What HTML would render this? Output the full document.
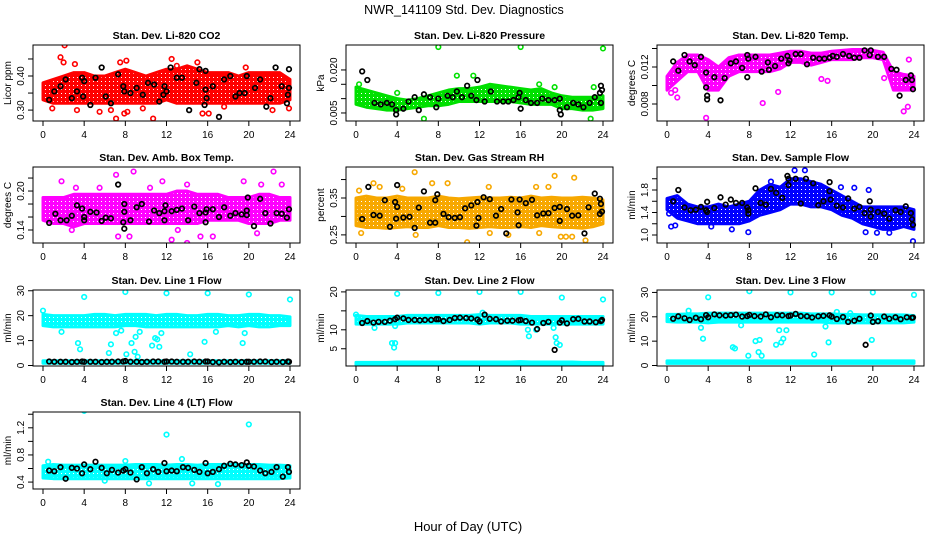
<!DOCTYPE html>
<html><head><meta charset="utf-8"><style>
body{margin:0;background:#fff}
svg{display:block;font-family:"Liberation Sans",sans-serif}
</style></head><body>
<svg id="chart" width="936" height="540" viewBox="0 0 936 540" xmlns="http://www.w3.org/2000/svg">
<text x="464" y="14" text-anchor="middle" font-size="12.5">NWR_141109  Std. Dev. Diagnostics</text>
<text x="468" y="531" text-anchor="middle" font-size="13">Hour of Day (UTC)</text>
</svg>
<script>
// ---- data ----
const xTicks=[0,4,8,12,16,20,24];
const hours=[0,1,2,3,4,5,6,7,8,9,10,11,12,13,14,15,16,17,18,19,20,21,22,23,24];
const blkHours=[0.6,1.1,1.7,2.2,2.8,3.3,3.8,4.0,4.6,5.1,5.7,6.2,6.7,7.3,7.8,8.0,8.5,9.1,9.6,10.1,10.7,11.2,11.8,12.0,12.5,13.0,13.6,14.1,14.7,15.2,15.8,16.0,16.5,17.1,17.6,18.2,18.7,19.3,19.8,20.0,20.5,21.1,21.6,22.2,22.7,23.3,23.8,23.9];

const co2Lo=[0.33,0.32,0.32,0.32,0.32,0.32,0.32,0.32,0.32,0.32,0.32,0.32,0.33,0.32,0.32,0.32,0.32,0.32,0.32,0.32,0.32,0.32,0.32,0.32,0.33];
const co2Hi=[0.38,0.39,0.40,0.41,0.41,0.40,0.40,0.41,0.42,0.41,0.40,0.41,0.42,0.42,0.43,0.42,0.41,0.41,0.41,0.40,0.41,0.41,0.41,0.41,0.39];
const co2Out=[[2.1,0.49],[1.7,0.455],[2,0.44],[0.9,0.305],[3.3,0.30],[5.5,0.295],[6.6,0.30],[7.1,0.275],[7.9,0.29],[8.2,0.295],[9.7,0.305],[10.7,0.275],[12.5,0.45],[13,0.43],[15,0.44],[15.5,0.29],[16.1,0.29],[17.6,0.31],[19.7,0.425],[22.3,0.30],[7.5,0.44],[8.1,0.445],[23.9,0.305],[3.1,0.435]];
const co2Blk=[[0.6,0.33],[1.1,0.355],[1.7,0.37],[2.2,0.39],[2.8,0.335],[3.3,0.355],[3.8,0.395],[4.0,0.385],[3.9,0.34],[4.6,0.315],[5.1,0.395],[5.7,0.425],[6.1,0.34],[6.6,0.32],[7.3,0.405],[7.8,0.37],[7.9,0.355],[8.5,0.35],[9.1,0.365],[9.7,0.345],[10.2,0.38],[10.8,0.375],[11.3,0.325],[11.7,0.345],[11.8,0.37],[12,0.355],[12.4,0.425],[13.0,0.395],[13.5,0.395],[14.2,0.30],[14.9,0.38],[15.2,0.42],[15.8,0.415],[15.8,0.36],[15.9,0.335],[15.7,0.315],[16.5,0.37],[17.1,0.28],[17.6,0.39],[18.2,0.40],[18.7,0.34],[19.1,0.35],[19.6,0.35],[19.8,0.40],[20.6,0.365],[21.1,0.39],[21.7,0.31],[22.1,0.335],[22.6,0.425],[23.2,0.37],[23.7,0.32],[23.8,0.345],[23.9,0.42],[23.9,0.365]];

const presLo=[0.008,0.007,0.0065,0.006,0.006,0.0065,0.007,0.0075,0.0075,0.008,0.009,0.009,0.009,0.009,0.009,0.009,0.0085,0.008,0.008,0.008,0.0065,0.0065,0.006,0.006,0.0065];
const presHi=[0.014,0.013,0.012,0.011,0.010,0.0095,0.010,0.011,0.012,0.013,0.0135,0.0135,0.014,0.015,0.0145,0.014,0.0135,0.013,0.0135,0.012,0.011,0.0105,0.0105,0.0105,0.011];
const presOut=[[8,0.028],[16,0.028],[24,0.0275],[9.8,0.018],[11.4,0.018],[6.6,0.003],[22.8,0.003],[0.3,0.015],[4,0.012],[19.3,0.014],[23.1,0.014],[17.8,0.015]];
const presBlk=[[0.6,0.0195],[1.1,0.0165],[1.8,0.0085],[2.4,0.008],[3,0.0085],[3.5,0.008],[3.9,0.006],[3.9,0.0045],[4.6,0.0065],[5.1,0.009],[5.7,0.0105],[6.1,0.006],[6.6,0.0115],[7.2,0.0105],[7.8,0.007],[8,0.01],[8.9,0.011],[9.4,0.0105],[9.8,0.0125],[10.3,0.0105],[10.8,0.0145],[11.2,0.011],[11.8,0.0165],[11.7,0.0095],[12.5,0.009],[13.1,0.0125],[13.7,0.009],[14.3,0.009],[14.8,0.009],[15.3,0.0095],[15.8,0.0105],[15.9,0.012],[16,0.0065],[16.5,0.0095],[17,0.0085],[17.6,0.0085],[18.1,0.01],[18.7,0.0095],[19.3,0.0095],[19.8,0.01],[19.8,0.006],[19.9,0.0045],[20.5,0.007],[21.1,0.0085],[21.6,0.008],[22.1,0.007],[22.7,0.0085],[23.2,0.0105],[23.7,0.012],[23.8,0.0145],[23.9,0.013],[23.8,0.0085]];

const tempLo=[0.0095,0.0105,0.0115,0.0115,0.0095,0.0095,0.011,0.0115,0.0115,0.0115,0.0115,0.0118,0.0125,0.0125,0.0122,0.0125,0.0128,0.0128,0.0128,0.013,0.013,0.0128,0.0095,0.0095,0.0095];
const tempHi=[0.011,0.0125,0.0133,0.0133,0.0128,0.012,0.013,0.0133,0.0133,0.0133,0.0133,0.0135,0.0137,0.0137,0.0135,0.0135,0.0137,0.0138,0.0139,0.0139,0.0138,0.0136,0.0115,0.0112,0.011];
const tempOut=[[3.8,0.0065],[0.4,0.0092],[0.8,0.0095],[1,0.0087],[9.3,0.0081],[10.8,0.0093],[23,0.0072],[23.4,0.0077],[15,0.0107],[15.6,0.0105],[21.1,0.0108],[23.5,0.0128],[0.2,0.0108]];
const tempBlk=[[0.6,0.0126],[1.1,0.0116],[1.7,0.0133],[2.2,0.0126],[2.7,0.0122],[3.3,0.0131],[3.8,0.0114],[3.8,0.0098],[3.9,0.0089],[3.9,0.0085],[4.6,0.0109],[5.2,0.0084],[5.6,0.0108],[6.2,0.0124],[6.7,0.0126],[7.3,0.0119],[7.8,0.0133],[7.9,0.0129],[7.8,0.0109],[8.6,0.0131],[9.2,0.0115],[9.8,0.0125],[9.9,0.0117],[10.5,0.0121],[11.1,0.0129],[11.7,0.0132],[11.9,0.0127],[11.8,0.0124],[12.5,0.0134],[13,0.0134],[13.6,0.0123],[14.2,0.0130],[14.8,0.0129],[15.3,0.0129],[15.8,0.0130],[16.1,0.0132],[16.5,0.0131],[17.1,0.0134],[17.7,0.0132],[18.2,0.0130],[18.7,0.0130],[19.2,0.0138],[19.7,0.0133],[19.8,0.0138],[20.5,0.0131],[21.1,0.0131],[21.8,0.0118],[22.3,0.0117],[22.6,0.0089],[23.2,0.0106],[23.7,0.0111],[23.8,0.0106],[23.9,0.0096]];

const ambLo=[0.155,0.15,0.15,0.145,0.15,0.15,0.15,0.15,0.15,0.15,0.15,0.15,0.15,0.15,0.15,0.15,0.155,0.155,0.155,0.155,0.15,0.15,0.15,0.155,0.155];
const ambHi=[0.19,0.19,0.19,0.195,0.195,0.195,0.195,0.195,0.195,0.195,0.195,0.195,0.195,0.2,0.2,0.195,0.195,0.195,0.19,0.19,0.19,0.195,0.195,0.19,0.19];
const ambOut=[[8.8,0.23],[1.8,0.215],[7.1,0.225],[11.6,0.215],[14,0.21],[19.5,0.215],[22.4,0.23],[23.2,0.21],[21.2,0.21],[12.5,0.125],[14,0.12],[15.3,0.13],[16.5,0.13],[7.3,0.13],[8.4,0.13],[13.1,0.14],[2.8,0.14],[20.8,0.135],[3.2,0.205],[10.4,0.205],[5.5,0.205]];
const ambBlk=[[0.6,0.151],[1.2,0.165],[1.7,0.155],[2.3,0.155],[2.8,0.162],[3.3,0.178],[3.8,0.173],[4,0.16],[4,0.155],[4.6,0.168],[5.2,0.167],[5.7,0.154],[6.1,0.159],[6.6,0.158],[7.3,0.21],[7.8,0.152],[7.9,0.168],[7.9,0.18],[7.9,0.142],[8.5,0.155],[9.1,0.175],[9.6,0.18],[10.3,0.153],[10.8,0.17],[11.3,0.166],[11.8,0.169],[11.9,0.178],[11.8,0.155],[12.5,0.169],[13,0.171],[13.5,0.173],[14.1,0.155],[14.7,0.176],[15.2,0.166],[15.8,0.167],[15.8,0.152],[15.9,0.172],[16.5,0.172],[17.1,0.16],[17.6,0.175],[18.2,0.162],[18.7,0.166],[19.3,0.164],[19.8,0.163],[19.8,0.17],[19.9,0.19],[20.5,0.146],[21.1,0.188],[21.6,0.166],[22.1,0.15],[22.7,0.166],[23.2,0.165],[23.7,0.159],[23.9,0.172]];

const rhLo=[0.275,0.27,0.27,0.268,0.27,0.272,0.27,0.27,0.275,0.27,0.27,0.268,0.27,0.272,0.27,0.27,0.272,0.27,0.275,0.272,0.27,0.27,0.268,0.272,0.28];
const rhHi=[0.35,0.355,0.35,0.35,0.355,0.35,0.35,0.35,0.355,0.35,0.348,0.35,0.352,0.35,0.35,0.352,0.35,0.355,0.35,0.352,0.35,0.35,0.352,0.35,0.345];
const rhOut=[[5.7,0.42],[19.3,0.41],[21.2,0.405],[0.3,0.37],[1.7,0.39],[7.4,0.39],[8.9,0.39],[12.9,0.38],[17.5,0.38],[18.7,0.38],[10.8,0.23],[22.3,0.235],[5.8,0.25],[0.5,0.255],[13,0.255],[20.4,0.245],[14.8,0.25],[17.8,0.255],[19.9,0.245],[21,0.245],[2.3,0.38],[4.5,0.375]];
const rhBlk=[[0.6,0.293],[1.2,0.38],[1.7,0.304],[2.3,0.302],[2.8,0.344],[3.3,0.272],[3.8,0.339],[3.9,0.294],[4,0.326],[4,0.385],[4.6,0.297],[5.2,0.299],[5.7,0.269],[6.1,0.324],[6.6,0.368],[7.2,0.283],[7.7,0.283],[7.7,0.344],[7.9,0.36],[8.5,0.307],[9,0.298],[9.6,0.296],[10.1,0.298],[10.6,0.322],[11.2,0.33],[11.7,0.275],[11.9,0.296],[11.8,0.339],[12.4,0.352],[13,0.347],[13.6,0.302],[14.1,0.32],[14.6,0.254],[15.1,0.346],[15.7,0.311],[15.8,0.276],[15.9,0.346],[16.5,0.336],[17.1,0.345],[17.6,0.303],[18.2,0.308],[18.7,0.309],[19.3,0.323],[19.8,0.326],[19.8,0.288],[20.5,0.32],[21,0.302],[21.6,0.303],[22.2,0.254],[22.6,0.325],[23.2,0.362],[23.7,0.348],[23.7,0.307],[23.8,0.334],[23.9,0.313]];

const sfLo=[1.45,1.3,1.25,1.2,1.2,1.2,1.2,1.2,1.25,1.35,1.4,1.45,1.55,1.55,1.5,1.5,1.45,1.35,1.3,1.2,1.15,1.1,1.1,1.15,1.1];
const sfHi=[1.65,1.7,1.55,1.5,1.5,1.55,1.5,1.55,1.6,1.8,1.9,1.85,2.0,2.0,1.95,1.9,1.8,1.7,1.6,1.5,1.5,1.5,1.5,1.5,1.45];
const sfOut=[[0.4,1.15],[0.8,1.17],[7.9,1.05],[12.4,2.15],[13.4,2.15],[19.3,1.05],[20.4,1.04],[21.6,1.04],[23.9,0.89],[18.2,1.84],[19.6,1.8],[10.1,1.95],[16.9,1.85],[0.2,1.38],[4.3,1.15],[6.3,1.1]];
const sfBlk=[[0.6,1.6],[1.1,1.8],[1.7,1.49],[2.3,1.44],[2.8,1.45],[3.3,1.5],[3.8,1.44],[3.9,1.41],[3.9,1.59],[4.6,1.48],[5.2,1.67],[5.7,1.54],[6.2,1.63],[6.7,1.57],[7.3,1.57],[7.8,1.49],[7.9,1.44],[7.9,1.38],[8.6,1.83],[9.1,1.57],[9.6,1.54],[10.1,1.82],[10.6,1.75],[11.2,1.66],[11.7,2.05],[11.8,2.0],[11.8,1.89],[12.5,2.0],[13,1.56],[13.5,2.0],[14.2,1.92],[14.7,1.53],[15.2,1.6],[15.8,1.94],[15.8,1.78],[15.9,1.63],[16.5,1.52],[17.1,1.49],[17.6,1.65],[18.2,1.47],[18.7,1.5],[19.2,1.39],[19.7,1.6],[19.8,1.45],[19.8,1.33],[20.5,1.41],[21.1,1.38],[21.6,1.29],[22.2,1.44],[22.7,1.41],[23.2,1.51],[23.7,1.39],[23.8,1.28],[23.9,1.18]];

const l1Lo=[16,15.5,15.5,15.5,15.5,15.5,15.5,15.5,16,16,15.5,15.5,15.5,15.5,15.5,15.5,15.5,15.5,16,15.5,16,15.5,15.5,16,16];
const l1Hi=[20.5,20,20,20,20,20.5,20.5,20,20.5,20.5,20.5,20,20.5,20.5,20,20,20.5,20.5,20,20,20.5,20.5,20,20,19.5];
const l1Lo2=[0.9,0.9,0.9,0.9,0.9,0.9,0.9,0.9,0.9,0.9,0.9,0.9,0.9,0.9,0.9,0.9,0.9,0.9,0.9,0.9,0.9,0.9,0.9,0.9,0.9];
const l1Hi2=[1.9,1.9,1.9,1.9,1.9,1.9,1.9,1.9,1.9,1.9,1.9,1.9,1.9,1.9,1.9,1.9,1.9,1.9,1.9,1.9,1.9,1.9,1.9,1.9,1.9];
const l1Out=[[0,22],[4,27.5],[8,29.5],[12,29],[16,29],[20,28.5],[24,26.5],[3.4,9],[3.6,6.5],[6.4,5],[6.6,8.5],[7.1,13],[7.6,14],[8.1,4.5],[8.6,9],[8.9,5.5],[9.2,3.5],[9,11.5],[9.4,13.5],[10.6,8],[10.9,11],[11.3,7.5],[11.5,13],[11.1,10.5],[14.3,4.5],[15.7,9.5],[16.8,13.5],[19.4,9],[19.6,13],[1.8,13.5]];
const l1Blk=[1.6,1.5,1.5,1.5,1.4,1.5,1.6,1.5,1.5,1.5,1.4,1.5,1.5,1.6,1.6,1.8,1.5,1.5,1.4,1.5,1.6,1.6,1.5,1.6,1.6,1.5,1.5,1.5,1.6,1.5,1.6,1.6,1.4,1.3,1.5,1.4,1.5,1.4,1.5,1.5,1.5,1.6,1.6,1.4,1.5,1.4,1.6,1.5];

const l2Lo=[11.5,11.5,11.5,11.5,11.5,11.8,11.8,11.8,11.8,11.8,11.8,11.8,11.5,11.8,11.8,11.8,11.5,11.5,11.5,11.5,11.5,11.5,11.5,11.5,11.5];
const l2Hi=[13.8,13.5,13.5,13.5,13.5,13.8,13.8,13.8,13.8,13.8,13.8,13.8,14,13.8,13.8,13.8,13.8,13.5,13.5,13.5,13.5,13.5,13.5,13.5,13.5];
const l2Lo2=[0.6,0.6,0.6,0.6,0.6,0.6,0.6,0.6,0.6,0.6,0.6,0.6,0.6,0.6,0.6,0.6,0.6,0.6,0.6,0.6,0.6,0.6,0.6,0.6,0.6];
const l2Hi2=[1.4,1.4,1.4,1.4,1.5,1.5,1.5,1.5,1.5,1.5,1.5,1.5,1.5,1.5,1.5,1.5,1.6,1.5,1.5,1.5,1.5,1.5,1.4,1.4,1.4];
const l2Out=[[0,14],[4,19.5],[8,19.7],[12,20],[16,20],[20,18.5],[24,18],[3.5,6.5],[3.8,6.5],[3.7,5.3],[3.8,11],[1.8,10.5],[16.7,10],[16.8,8.3],[17.5,10],[19.2,10.5],[19.4,8],[19.5,6.5],[19.8,6],[12.3,14.5]];
const l2Blk=[11.8,12.3,11.9,12.1,12.1,12.4,12.8,13.2,13.0,12.6,12.6,12.5,12.6,12.6,12.8,12.8,12.3,12.6,13.1,13.2,13.1,13.0,12.7,12.2,14.0,12.9,12.8,12.2,12.4,12.4,12.5,12.6,12.3,11.9,10.2,11.8,12.1,4.7,11.9,12.5,11.7,12.8,12.9,12.2,12.2,12.0,12.3,12.6];

const l3Lo=[18,17.8,17.8,17.8,17.5,17.8,17.8,17.8,17.8,17.8,17.8,17.8,17.8,17.8,17.8,17.8,17.5,17.5,17.5,17.5,17.5,17.5,17.5,17.5,17.8];
const l3Hi=[21,21,21.2,21.2,21.5,21.5,21.5,21.5,21.5,21.5,21.5,21.5,21.5,21.5,21.2,21.2,21.2,21,21,20.8,20.8,20.8,20.8,20.8,20.5];
const l3Lo2=[0.9,0.9,0.9,0.9,0.9,0.9,0.9,0.9,0.9,0.9,0.9,0.9,0.9,0.9,0.9,0.9,0.9,0.9,0.9,0.9,0.9,0.9,0.9,0.9,0.9];
const l3Hi2=[1.9,1.9,1.9,1.9,1.9,1.9,1.9,1.9,1.9,1.9,1.9,1.9,1.9,1.9,1.9,1.9,1.9,1.9,1.9,1.9,1.9,1.9,1.9,1.9,1.9];
const l3Out=[[4,28],[8,30.5],[12,30],[16,30],[20,30],[24,29],[3.5,11],[3.3,15.5],[2.1,22.5],[6.4,7.5],[6.6,7],[7.2,16.5],[7.9,4],[8.6,10],[9,10.5],[8.9,5.5],[9.2,4],[10.6,8.5],[10.9,14.5],[11.1,9.5],[11.3,11],[11.6,14.5],[14.3,4.5],[15.7,9.5],[15.4,16],[19.9,10.5],[16.5,22],[17.8,21.5]];
const l3Blk=[19.2,20.2,19.4,18.7,19.6,19.0,20.7,19.8,21.0,20.6,20.5,20.7,20.9,20.1,20.3,20.8,20.3,20.1,21.0,19.8,20.7,20.6,20.3,20.5,21.2,20.3,20.2,19.7,20.2,20.4,20.6,20.1,19.1,19.9,17.9,18.4,19.2,8.5,20.5,17.9,18.2,20.1,19.2,19.8,19.0,19.8,19.6,19.7];

const l4Lo=[0.46,0.45,0.45,0.45,0.45,0.45,0.45,0.45,0.45,0.45,0.45,0.45,0.45,0.45,0.45,0.45,0.45,0.45,0.45,0.45,0.45,0.45,0.45,0.45,0.46];
const l4Hi=[0.64,0.66,0.65,0.65,0.65,0.65,0.65,0.65,0.65,0.66,0.66,0.66,0.65,0.66,0.66,0.65,0.66,0.66,0.66,0.66,0.66,0.66,0.65,0.65,0.64];
const l4Out=[[4,1.45],[12,1.1],[20,1.25],[14.5,0.38],[17,0.37],[10.3,0.38],[6,0.42],[13.5,0.74],[8,0.71],[0.5,0.7]];
const l4Blk=[0.57,0.56,0.62,0.45,0.61,0.60,0.53,0.66,0.59,0.70,0.61,0.53,0.58,0.54,0.57,0.59,0.54,0.44,0.62,0.53,0.59,0.55,0.68,0.56,0.57,0.56,0.62,0.61,0.58,0.55,0.68,0.53,0.55,0.59,0.64,0.67,0.66,0.65,0.69,0.64,0.63,0.57,0.53,0.55,0.62,0.48,0.62,0.55];

const co2Ticks=[0.30,0.35,0.40,0.45], co2Labels=["0.30","","0.40",""];
const presTicks=[0.005,0.010,0.015,0.020], presLabels=["0.005","","","0.020"];
const tempTicks=[0.008,0.010,0.012,0.014], tempLabels=["0.008","","0.012",""];
const ambTicks=[0.14,0.16,0.18,0.20,0.22], ambLabels=["0.14","","","0.20",""];
const rhTicks=[0.25,0.30,0.35,0.40], rhLabels=["0.25","","0.35",""];
const sfTicks=[1.0,1.2,1.4,1.6,1.8,2.0], sfLabels=["1.0","","1.4","","1.8",""];
const l1Ticks=[0,10,20,30], l1Labels=["0","10","20","30"];
const l2Ticks=[5,10,15,20], l2Labels=["5","10","","20"];
const l3Ticks=[0,10,20,30], l3Labels=["0","10","20","30"];
const l4Ticks=[0.4,0.6,0.8,1.0,1.2,1.4], l4Labels=["0.4","","0.8","","1.2",""];

// ---- layout ----
const NS="http://www.w3.org/2000/svg";
const svg=document.getElementById('chart');
const colX0=[43,356,667], rowTop=[45,167,290,412], rowBot=[121,243,366,489];
const pxPerHour=247/24;
function mk(tag,attrs,parent){const e=document.createElementNS(NS,tag);for(const k in attrs)e.setAttribute(k,attrs[k]);(parent||svg).appendChild(e);return e;}
function pairs(hs,vs){return hs.map((h,i)=>[h,vs[i]]);}
const defs=mk('defs',{});
let patN=0;
function pattern(color){
  const id='pat'+(patN++);
  const p=mk('pattern',{id:id,width:4,height:4,patternUnits:'userSpaceOnUse'},defs);
  mk('rect',{x:0,y:0,width:4,height:4,fill:color},p);
  mk('rect',{x:1,y:1,width:1,height:1,fill:'#fff'},p);
  return 'url(#'+id+')';
}

function panel(o){
  const g=mk('g',{});
  
  
  const x0=colX0[o.col], top=rowTop[o.row], bot=rowBot[o.row];
  const left=x0-10, right=x0+257;
  const xs=h=>x0+h*pxPerHour;
  const ys=v=>bot-(v-o.ymin)/(o.ymax-o.ymin)*(bot-top);
  const title=mk('text',{x:(left+right)/2,y:top-6,'text-anchor':'middle','font-size':'10.5','font-weight':'bold'},g);
  title.textContent=o.title;
  
  
  const clip=mk('clipPath',{id:'c'+o.name},g);
  mk('rect',{x:left,y:top,width:right-left,height:bot-top},clip);
  const plot=mk('g',{'clip-path':'url(#c'+o.name+')'},g);
  const fillP=pattern(o.color);
  o.bands.forEach((b,bi)=>{
    const pts=hours.map((h,i)=>xs(h)+','+ys(b[1][i])).concat(hours.slice().reverse().map((h,j)=>{const i=hours.length-1-j;return xs(h)+','+ys(b[0][i]);}));
    const p=mk('polygon',{points:pts.join(' '),fill:fillP,stroke:o.color,'stroke-width':3,'stroke-linejoin':'round'},plot);
    
    
  });
  o.out.forEach(pt=>{
    const c=mk('circle',{cx:xs(pt[0]),cy:ys(pt[1]),r:2.3,fill:'none',stroke:o.color,'stroke-width':1.6},plot);
    
    
  });
  o.blk.forEach(pt=>{
    const c=mk('circle',{cx:xs(pt[0]),cy:ys(pt[1]),r:2.3,fill:'none',stroke:'#000','stroke-width':1.7},plot);
    
    
  });
  const box=mk('rect',{x:left,y:top,width:right-left,height:bot-top,fill:'none',stroke:'#000','stroke-width':1},g);
  
  
  mk('line',{x1:xs(0),x2:xs(24),y1:bot,y2:bot,stroke:'#000'},g);
  xTicks.forEach(t=>{
    mk('line',{x1:xs(t),x2:xs(t),y1:bot,y2:bot+5,stroke:'#000'},g);
    const tx=mk('text',{x:xs(t),y:bot+17,'text-anchor':'middle','font-size':'10'},g);
    tx.textContent=t;
    
    
  });
  mk('line',{x1:left,x2:left,y1:ys(o.ticks[0]),y2:ys(o.ticks[o.ticks.length-1]),stroke:'#000'},g);
  o.ticks.forEach((t,i)=>{
    const y=ys(t);
    mk('line',{x1:left-5,x2:left,y1:y,y2:y,stroke:'#000'},g);
    if(o.labels[i]){
      const tx=mk('text',{x:left-9,y:y,'text-anchor':'middle','font-size':'10',transform:'rotate(-90 '+(left-9)+' '+y+')'},g);
      tx.textContent=o.labels[i];
      
      
    }
  });
  const yt=mk('text',{x:left-22,y:(top+bot)/2,'text-anchor':'middle','font-size':'10',transform:'rotate(-90 '+(left-22)+' '+((top+bot)/2)+')'},g);
  yt.textContent=o.ylab;
  
  
}

panel({name:'co2',title:'Stan. Dev. Li-820 CO2',row:0,col:0,ymin:0.268,ymax:0.491,color:'#ff0000',ylab:'Licor ppm',ticks:co2Ticks,labels:co2Labels,bands:[[co2Lo,co2Hi]],out:co2Out,blk:co2Blk});
panel({name:'pressure',title:'Stan. Dev. Li-820 Pressure',row:0,col:1,ymin:0.0022,ymax:0.0287,color:'#00e000',ylab:'kPa',ticks:presTicks,labels:presLabels,bands:[[presLo,presHi]],out:presOut,blk:presBlk});
panel({name:'li820-temp',title:'Stan. Dev. Li-820 Temp.',row:0,col:2,ymin:0.00616,ymax:0.01438,color:'#ff00ff',ylab:'degrees C',ticks:tempTicks,labels:tempLabels,bands:[[tempLo,tempHi]],out:tempOut,blk:tempBlk});
panel({name:'amb-box-temp',title:'Stan. Dev. Amb. Box Temp.',row:1,col:0,ymin:0.12,ymax:0.237,color:'#ff00ff',ylab:'degrees C',ticks:ambTicks,labels:ambLabels,bands:[[ambLo,ambHi]],out:ambOut,blk:ambBlk});
panel({name:'gas-rh',title:'Stan. Dev. Gas Stream RH',row:1,col:1,ymin:0.228,ymax:0.434,color:'#f7a800',ylab:'percent',ticks:rhTicks,labels:rhLabels,bands:[[rhLo,rhHi]],out:rhOut,blk:rhBlk});
panel({name:'sample-flow',title:'Stan. Dev. Sample Flow',row:1,col:2,ymin:0.858,ymax:2.209,color:'#0000ff',ylab:'ml/min',ticks:sfTicks,labels:sfLabels,bands:[[sfLo,sfHi]],out:sfOut,blk:sfBlk});
panel({name:'line1-flow',title:'Stan. Dev. Line 1 Flow',row:2,col:0,ymin:-0.2,ymax:30.3,color:'#00ffff',ylab:'ml/min',ticks:l1Ticks,labels:l1Labels,bands:[[l1Lo,l1Hi],[l1Lo2,l1Hi2]],out:l1Out,blk:pairs(blkHours,l1Blk)});
panel({name:'line2-flow',title:'Stan. Dev. Line 2 Flow',row:2,col:1,ymin:0.45,ymax:20.5,color:'#00ffff',ylab:'ml/min',ticks:l2Ticks,labels:l2Labels,bands:[[l2Lo,l2Hi],[l2Lo2,l2Hi2]],out:l2Out,blk:pairs(blkHours,l2Blk)});
panel({name:'line3-flow',title:'Stan. Dev. Line 3 Flow',row:2,col:2,ymin:-0.2,ymax:31,color:'#00ffff',ylab:'ml/min',ticks:l3Ticks,labels:l3Labels,bands:[[l3Lo,l3Hi],[l3Lo2,l3Hi2]],out:l3Out,blk:pairs(blkHours,l3Blk)});
panel({name:'line4-flow',title:'Stan. Dev. Line 4 (LT) Flow',row:3,col:0,ymin:0.298,ymax:1.433,color:'#00ffff',ylab:'ml/min',ticks:l4Ticks,labels:l4Labels,bands:[[l4Lo,l4Hi]],out:l4Out,blk:pairs(blkHours,l4Blk)});
</script>
</body></html>
